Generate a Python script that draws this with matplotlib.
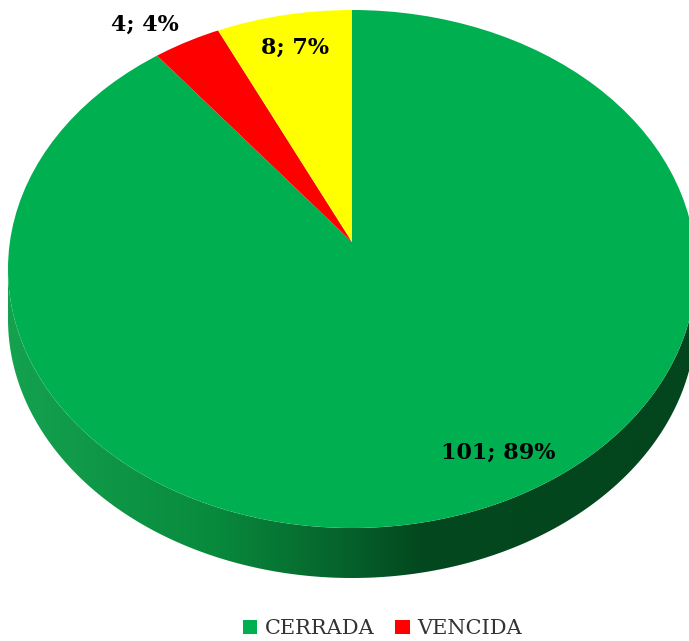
import numpy as np
import matplotlib
matplotlib.use("Agg")
import matplotlib.pyplot as plt
from matplotlib.patches import Polygon, Patch, Ellipse
from matplotlib.colors import LinearSegmentedColormap

# data (Excel order: first slice starts at 12 o'clock, clockwise)
categories = ["CERRADA", "VENCIDA", "POR VENCER"]
values = [101, 4, 8]
percents = [89, 4, 7]
colors = ["#00B050", "#FF0000", "#FFFF00"]
legend_shown = ["CERRADA", "VENCIDA"]

W, H = 689, 641
cx, cy = 352, 269      # ellipse centre in pixels
a, b = 344, 259        # semi axes in pixels
apex_y = 242           # where the slices meet (perspective)
depth = 50 / b         # side thickness, data units

fig = plt.figure(figsize=(W / 100, H / 100), dpi=100)
ax = fig.add_axes([0, 0, 1, 1])

# side of the 3D pie
t = np.linspace(np.pi, 2 * np.pi, 300)
top = np.column_stack([np.cos(t), np.sin(t)])
bot = np.column_stack([np.cos(t[::-1]), np.sin(t[::-1]) - depth])
side = Polygon(np.vstack([top, bot]), closed=True, facecolor="none", edgecolor="none")
ax.add_patch(side)
cmap = LinearSegmentedColormap.from_list(
    "side", [(0, "#14a24f"), (0.3, "#088a3d"), (0.5, "#05602a"), (0.6, "#03481f"), (1, "#03451d")])
grad = np.linspace(0, 1, 256).reshape(1, -1)
im = ax.imshow(grad, cmap=cmap, extent=(-1, 1, -1 - depth, 0), aspect="auto",
               interpolation="bicubic", zorder=1)
im.set_clip_path(side)

# top face: slices from the perspective apex, clipped to the ellipse
face = Ellipse((0, 0), 2, 2, facecolor="none", edgecolor="none")
ax.add_patch(face)
wedges, _ = ax.pie(values, colors=colors, startangle=90, counterclock=False,
                   radius=1.3, center=(0, (cy - apex_y) / b),
                   wedgeprops=dict(linewidth=0))
for w in wedges:
    w.set_zorder(2)
    w.set_clip_on(True)
    w.set_clip_path(face)

ax.set_aspect("auto")
ax.set_xlim((0 - cx) / a, (W - cx) / a)
ax.set_ylim((cy - H) / b, cy / b)
ax.axis("off")

# data labels (value; percent)
label_xy = [(498, 453), (145, 25), (295, 48)]
for (px, py), v, p in zip(label_xy, values, percents):
    ax.text((px - cx) / a, (cy - py) / b, f"{v}; {p}%", ha="center", va="center",
            fontsize=16, fontweight="bold", family="DejaVu Serif", color="black",
            zorder=5)

handles = [Patch(facecolor=c, edgecolor="none") for c in colors[:len(legend_shown)]]
fig.legend(handles, legend_shown, loc="lower left", bbox_to_anchor=(0.325, -0.025),
           ncol=2, frameon=False, handlelength=0.7, handleheight=0.7,
           handletextpad=0.35, columnspacing=1.0,
           prop={"family": "DejaVu Serif", "size": 15}, labelcolor="#333333")

fig.savefig("out.png", dpi=100)
